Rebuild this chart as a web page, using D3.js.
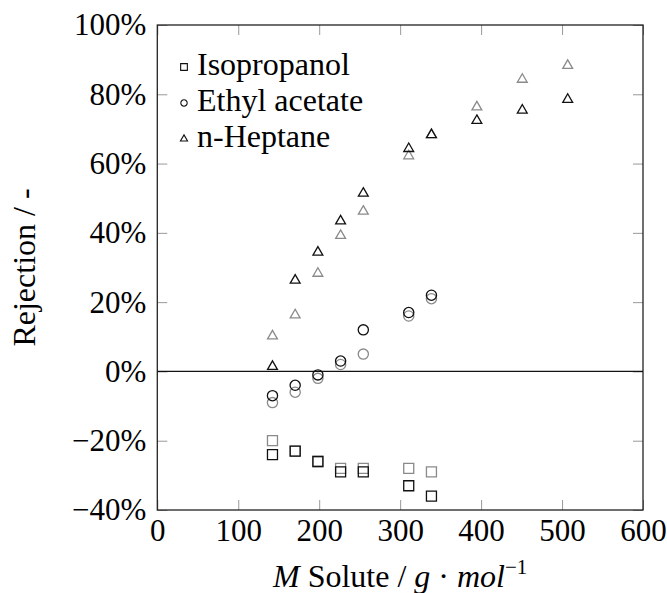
<!DOCTYPE html>
<html><head><meta charset="utf-8">
<script src="https://cdn.jsdelivr.net/npm/d3@7"></script>
<style>body{margin:0;background:#fff}</style>
</head><body>
<svg id="c" width="667" height="593"></svg>
<script>
const molarMass = [142.28, 170.33, 198.39, 226.44, 254.49, 310.6, 338.66, 394.77, 450.87, 506.98];
// rejection in %, black (set A) and gray (set B)
const isopropanolA = [-24, -23, -26, -29, -29, -33, -36];
const isopropanolB = [-20, -23, -26, -28, -28, -28, -29];
const ethylA = [-7, -4, -1, 3, 12, 17, 22];
const ethylB = [-9, -6, -2, 2, 5, 16, 21];
const heptaneA = [1.4, 26.3, 34.4, 43.4, 51.4, 64.3, 68.3, 72.4, 75.4, 78.5];
const heptaneB = [10.2, 16.3, 28.3, 39.2, 46.2, 62.2, 68.3, 76.3, 84.3, 88.3];
const xTicks = [0, 100, 200, 300, 400, 500, 600];
const yTicks = [-40, -20, 0, 20, 40, 60, 80, 100];
const legendNames = ["Isopropanol", "Ethyl acetate", "n-Heptane"];

const FONT = "'Liberation Serif', 'Times New Roman', serif";
const svg = d3.select("#c");
const L = 157.3, R = 643, T = 25, B = 510;
const x = d3.scaleLinear().domain([0, 600]).range([L, R]);
const y = d3.scaleLinear().domain([-40, 100]).range([B, T]);
const fmt = d => (d < 0 ? "\u2212" + Math.abs(d) : d) + "%";
const gray = "#8a8a8a", black = "#111";

function styleAxis(g){
  g.select(".domain").remove();
  g.selectAll(".tick line").attr("stroke", "#999").attr("stroke-width", 1);
  g.selectAll(".tick text").attr("font-family", FONT).attr("font-size", 31).attr("fill", "#000");
}
svg.append("g").attr("transform", `translate(0,${B})`)
  .call(d3.axisBottom(x).tickValues(xTicks).tickSizeInner(-10).tickSizeOuter(0).tickPadding(9).tickFormat(d3.format("d")))
  .call(styleAxis).call(g => g.selectAll(".tick text").attr("dy", "0.72em"));
svg.append("g").attr("transform", `translate(0,${T})`)
  .call(d3.axisTop(x).tickValues(xTicks).tickSizeInner(-10).tickSizeOuter(0).tickFormat(""))
  .call(styleAxis);
svg.append("g").attr("transform", `translate(${L},0)`)
  .call(d3.axisLeft(y).tickValues(yTicks).tickSizeInner(-10).tickSizeOuter(0).tickPadding(11).tickFormat(fmt))
  .call(styleAxis);
svg.append("g").attr("transform", `translate(${R},0)`)
  .call(d3.axisRight(y).tickValues(yTicks).tickSizeInner(-10).tickSizeOuter(0).tickFormat(""))
  .call(styleAxis);

svg.append("rect").attr("x", L).attr("y", T).attr("width", R - L).attr("height", B - T)
  .attr("fill", "none").attr("stroke", "#222").attr("stroke-width", 1.3);
svg.append("line").attr("x1", L).attr("x2", R).attr("y1", y(0)).attr("y2", y(0))
  .attr("stroke", "#111").attr("stroke-width", 1.2);

const sq = d3.symbol().type(d3.symbolSquare).size(100);
const ci = d3.symbol().type(d3.symbolCircle).size(82);
const tr = d3.symbol().type(d3.symbolTriangle).size(42);

function plot(vals, sym, color){
  svg.append("g").selectAll("path").data(vals).join("path")
    .attr("transform", (v, i) => `translate(${x(molarMass[i])},${y(v)})`)
    .attr("d", sym).attr("fill", "none").attr("stroke", color).attr("stroke-width", 1.3);
}
plot(isopropanolB, sq, gray); plot(isopropanolA, sq, black);
plot(ethylB, ci, gray); plot(ethylA, ci, black);
plot(heptaneB, tr, gray); plot(heptaneA, tr, black);

// legend
const legSyms = [d3.symbol().type(d3.symbolSquare).size(45), d3.symbol().type(d3.symbolCircle).size(32), d3.symbol().type(d3.symbolTriangle).size(22)];
const lg = svg.append("g");
legendNames.forEach((n, i) => {
  const cy = 67 + i * 36;
  lg.append("path").attr("transform", `translate(184,${cy})`).attr("d", legSyms[i])
    .attr("fill", "none").attr("stroke", "#111").attr("stroke-width", 1.1);
  lg.append("text").attr("x", 197).attr("y", cy + 8).text(n)
    .attr("font-family", FONT).attr("font-size", 32);
});

// axis titles
svg.append("text").attr("transform", `translate(35,${(T + B) / 2}) rotate(-90)`)
  .attr("text-anchor", "middle").attr("font-family", FONT).attr("font-size", 32)
  .text("Rejection / -");
const xt = svg.append("text").attr("x", (L + R) / 2).attr("y", 587).attr("text-anchor", "middle")
  .attr("font-family", FONT).attr("font-size", 32);
xt.append("tspan").attr("font-style", "italic").text("M");
xt.append("tspan").text(" Solute / ");
xt.append("tspan").attr("font-style", "italic").text("g");
xt.append("tspan").text(" \u00b7 ");
xt.append("tspan").attr("font-style", "italic").text("mol");
xt.append("tspan").attr("font-size", 21).attr("dy", -13).text("\u22121");
</script>
</body></html>
